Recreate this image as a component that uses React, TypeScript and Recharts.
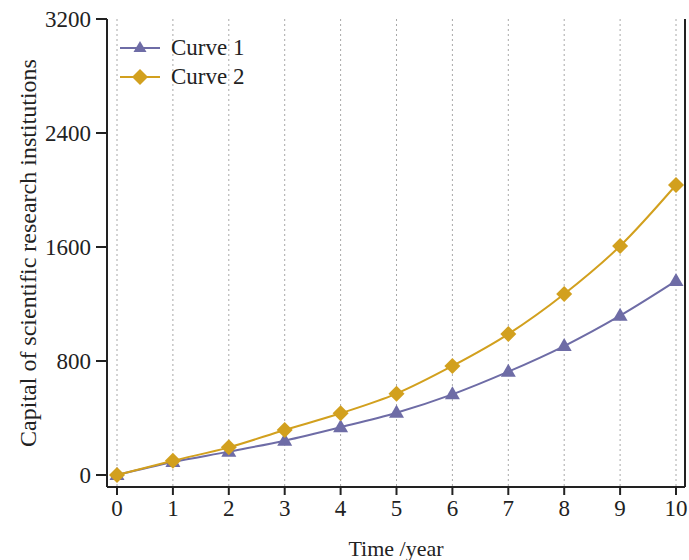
import React from 'react';
import { LineChart, Line, XAxis, YAxis, CartesianGrid } from 'recharts';

const years = [0, 1, 2, 3, 4, 5, 6, 7, 8, 9, 10];
const curve1 = [0, 91, 164, 241, 335, 437, 566, 725, 905, 1118, 1362];
const curve2 = [0, 100, 194, 316, 433, 571, 765, 989, 1270, 1607, 2035];
const yTicks = [0, 800, 1600, 2400, 3200];
const seriesNames = ['Curve 1', 'Curve 2'];

const data = years.map((t, i) => ({ t, c1: curve1[i], c2: curve2[i] }));

const C1 = '#6e6ca6';
const C2 = '#d2a01e';
const FONT = '"Liberation Serif", "Times New Roman", serif';

const Triangle = (props: any) => {
  const { cx, cy, fill } = props;
  if (cx == null || cy == null) return null;
  return <path d={`M${cx},${cy - 8} L${cx + 7.5},${cy + 5} L${cx - 7.5},${cy + 5} Z`} fill={fill} />;
};
const Diamond = (props: any) => {
  const { cx, cy, fill } = props;
  if (cx == null || cy == null) return null;
  return <path d={`M${cx},${cy - 8} L${cx + 8},${cy} L${cx},${cy + 8} L${cx - 8},${cy} Z`} fill={fill} />;
};

const LegendBox = () => (
  <div style={{ position: 'absolute', left: 118, top: 33, fontFamily: FONT, fontSize: 23, color: '#222', lineHeight: '29px' }}>
    {[{ c: C1, s: 'tri' }, { c: C2, s: 'dia' }].map((e, i) => (
      <div key={i} style={{ display: 'flex', alignItems: 'center' }}>
        <svg width={44} height={20} style={{ marginRight: 9 }}>
          <line x1={2} y1={10} x2={42} y2={10} stroke={e.c} strokeWidth={2} />
          {e.s === 'tri' ? (
            <path d="M22,3 L28.5,14 L15.5,14 Z" fill={e.c} />
          ) : (
            <path d="M22,2 L30,10 L22,18 L14,10 Z" fill={e.c} />
          )}
        </svg>
        <span>{seriesNames[i]}</span>
      </div>
    ))}
  </div>
);

export default function App() {
  return (
    <div style={{ position: 'absolute', left: 0, top: 0, width: 689, height: 560, background: '#fff' }}>
      <LineChart width={689} height={560} data={data} margin={{ top: 19, right: 3, bottom: 0, left: 0 }}>
        <CartesianGrid horizontal={false} vertical={true} stroke="#a8a8a8" strokeDasharray="2 3" />
        <XAxis
          dataKey="t"
          type="number"
          domain={[0, 10]}
          ticks={years}
          padding={{ left: 10, right: 9 }}
          height={73}
          tickSize={8}
          tickMargin={5}
          axisLine={{ stroke: '#222', strokeWidth: 2 }}
          tickLine={{ stroke: '#222', strokeWidth: 2 }}
          tick={{ fontFamily: FONT, fontSize: 23, fill: '#222' }}
          label={{ value: 'Time /year', position: 'insideBottom', offset: 4, style: { fontFamily: FONT, fontSize: 22, fill: '#222' } }}
        />
        <XAxis xAxisId="top" orientation="top" dataKey="t" type="number" domain={[0, 10]} tick={false} tickLine={false} height={0} axisLine={{ stroke: '#222', strokeWidth: 2 }} />
        <YAxis
          domain={[0, 3200]}
          ticks={yTicks}
          padding={{ bottom: 12 }}
          width={107}
          tickSize={11}
          tickMargin={5}
          axisLine={{ stroke: '#222', strokeWidth: 2 }}
          tickLine={{ stroke: '#222', strokeWidth: 2 }}
          tick={{ fontFamily: FONT, fontSize: 23, fill: '#222' }}
          label={{ value: 'Capital of scientific research institutions', angle: -90, position: 'center', dx: -26, style: { fontFamily: FONT, fontSize: 24, fill: '#222', textAnchor: 'middle' } }}
        />
        <YAxis yAxisId="right" orientation="right" domain={[0, 3200]} width={1} tick={false} tickLine={false} axisLine={{ stroke: '#222', strokeWidth: 2 }} />
        <Line type="monotone" dataKey="c1" name="Curve 1" stroke={C1} strokeWidth={2} dot={<Triangle fill={C1} />} activeDot={false} isAnimationActive={false} />
        <Line type="monotone" dataKey="c2" name="Curve 2" stroke={C2} strokeWidth={2} dot={<Diamond fill={C2} />} activeDot={false} isAnimationActive={false} />
      </LineChart>
      <LegendBox />
    </div>
  );
}
